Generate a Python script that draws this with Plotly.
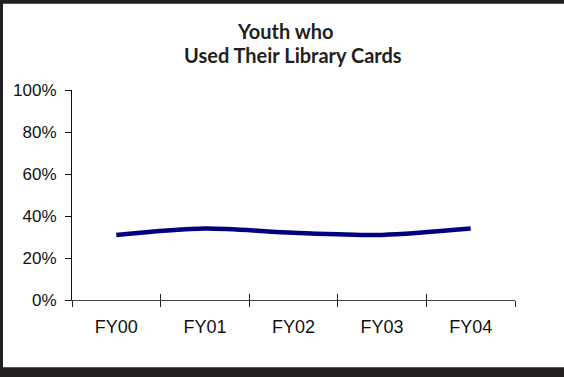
import plotly.graph_objects as go

# Share of youth who used their library cards, by fiscal year
years = ["FY00", "FY01", "FY02", "FY03", "FY04"]
pct_used = [31, 34, 32, 31, 34]
y_ticks = [0, 20, 40, 60, 80, 100]
y_tick_text = [f"{v}%" for v in y_ticks]
title_lines = ["Youth who", "Used Their Library Cards"]

W, H = 564, 377
L, R, T, B = 72, 49, 90, 76.5

fig = go.Figure()
fig.add_trace(go.Scatter(
    x=years, y=pct_used, mode="lines",
    line=dict(color="#000080", width=4.5, shape="spline", smoothing=0.8),
    hoverinfo="skip", showlegend=False,
))
# second, invisible trace on an overlaid axis so the x ticks cross the axis line
fig.add_trace(go.Scatter(
    x=years, y=pct_used, mode="lines", xaxis="x2",
    line=dict(color="rgba(0,0,0,0)", width=0),
    hoverinfo="skip", showlegend=False,
))

label_family = "Liberation Sans, Arial, sans-serif"

fig.update_layout(
    width=W, height=H,
    margin=dict(l=L, r=R, t=T, b=B),
    paper_bgcolor="white", plot_bgcolor="white",
    xaxis=dict(
        type="category", categoryorder="array", categoryarray=years,
        range=[-0.5, 4.5], tickson="boundaries",
        ticks="outside", ticklen=6, tickcolor="#222222", tickwidth=1,
        showline=True, linecolor="#444444", linewidth=1,
        showgrid=False, zeroline=False,
        tickfont=dict(family=label_family, size=18, color="#111111"),
        ticklabelstandoff=10,
    ),
    xaxis2=dict(
        type="category", categoryorder="array", categoryarray=years,
        range=[-0.5, 4.5], tickson="boundaries", overlaying="x",
        ticks="inside", ticklen=6, tickcolor="#222222", tickwidth=1,
        showticklabels=False, showgrid=False, zeroline=False, showline=False,
        side="bottom",
    ),
    yaxis=dict(
        range=[0, 100], tickmode="array", tickvals=y_ticks, ticktext=y_tick_text,
        ticks="outside", ticklen=6, tickcolor="#111111",
        showline=True, linecolor="#111111", linewidth=1,
        showgrid=False, zeroline=False,
        tickfont=dict(family=label_family, size=17, color="#111111"),
        ticklabelstandoff=5,
    ),
)

pw = W - L - R
ph = H - T - B
def px(x):
    return (x - L) / pw
def py(y):
    return (H - B - y) / ph

# two-line bold heading
title_font = dict(family="Lato, Open Sans, sans-serif", size=20, color="#231f20")
for text, cx, cy in [(title_lines[0], 284.5, 31.0), (title_lines[1], 292.5, 55.2)]:
    fig.add_annotation(text=f"<b>{text}</b>", xref="paper", yref="paper",
                       x=px(cx), y=py(cy), xanchor="center", yanchor="middle",
                       showarrow=False, font=title_font)

# dark frame bands along the top, left and bottom of the page
frame = "#231f20"
for x0, x1, y0, y1 in [
    (px(-10), px(W + 10), py(3.5), py(-10)),
    (px(-10), px(3), py(-10), py(H + 10)),
    (px(-10), px(W + 10), py(H + 10), py(368)),
]:
    fig.add_shape(type="rect", xref="paper", yref="paper",
                  x0=x0, x1=x1, y0=y0, y1=y1,
                  fillcolor=frame, line=dict(width=0), layer="above")

fig.write_html("out.html")
